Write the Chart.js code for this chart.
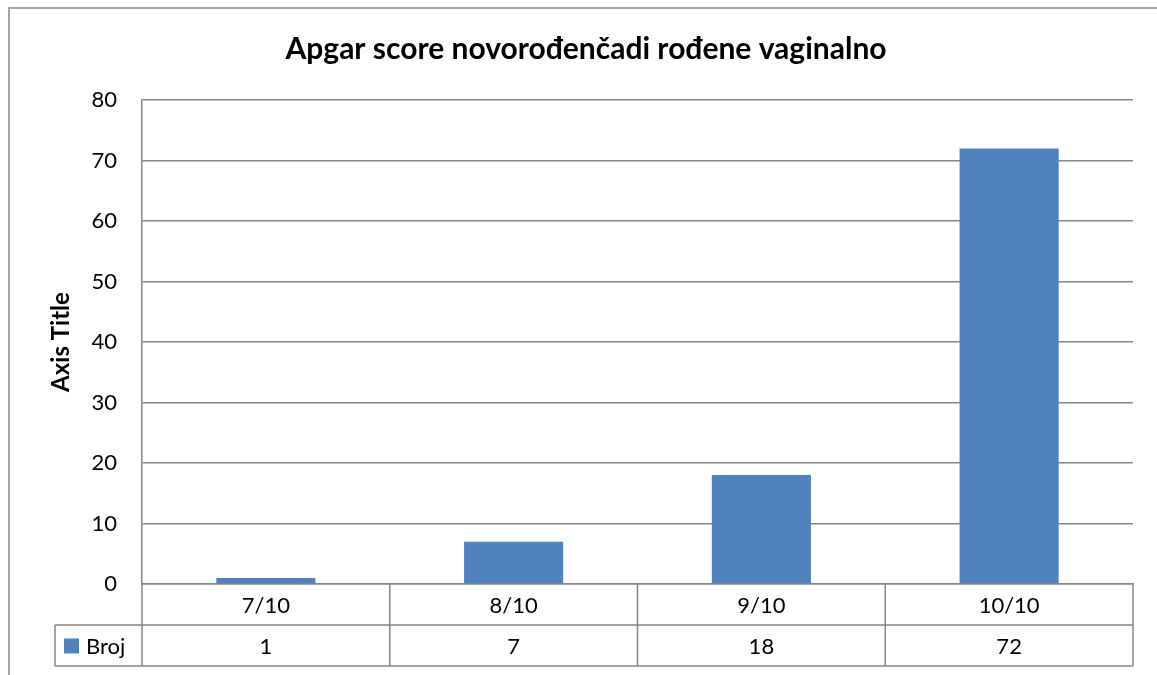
<!DOCTYPE html>
<html>
<head>
<meta charset="utf-8">
<script src="https://cdn.jsdelivr.net/npm/chart.js@4/dist/chart.umd.min.js"></script>
<style>
  html, body { margin: 0; padding: 0; background: #fff; }
  #wrap { width: 1157px; height: 675px; position: relative; }
</style>
</head>
<body>
<div id="wrap"><canvas id="c" width="1157" height="675"></canvas></div>
<script>
const chartTitle = 'Apgar score novorođenčadi rođene vaginalno';
const yAxisTitle = 'Axis Title';
const categories = ['7/10', '8/10', '9/10', '10/10'];
const seriesName = 'Broj';
const broj = [1, 7, 18, 72];
const yMin = 0, yMax = 80, yStep = 10;

const FONT = 'Lato, "Open Sans", sans-serif';
const GRID = '#868686';
const BAR = '#4F81BD';

const tablePlugin = {
  id: 'dataTable',
  beforeDraw(chart) {
    const ctx = chart.ctx;
    ctx.save();
    ctx.fillStyle = '#fff';
    ctx.fillRect(0, 0, chart.width, chart.height);
    ctx.strokeStyle = GRID;
    ctx.lineWidth = 1.5;
    ctx.strokeRect(9, 8, chart.width + 50, chart.height + 50);
    ctx.restore();
  },
  afterDraw(chart) {
    const ctx = chart.ctx;
    const { left, right, bottom } = chart.chartArea;
    const x = chart.scales.x;
    const rowH = 41;
    const r1 = bottom, r2 = bottom + rowH, r3 = bottom + rowH * 2;
    const legendLeft = 55;
    const n = categories.length;
    const catW = (right - left) / n;
    ctx.save();
    ctx.strokeStyle = GRID;
    ctx.lineWidth = 1.5;
    ctx.beginPath();
    ctx.moveTo(legendLeft, r2); ctx.lineTo(right, r2);
    ctx.moveTo(legendLeft, r3); ctx.lineTo(right, r3);
    ctx.moveTo(legendLeft, r2); ctx.lineTo(legendLeft, r3);
    for (let i = 0; i <= n; i++) {
      const bx = left + i * catW;
      ctx.moveTo(bx, r1); ctx.lineTo(bx, r3);
    }
    ctx.stroke();

    ctx.fillStyle = '#000';
    ctx.font = '22px ' + FONT;
    ctx.textAlign = 'center';
    ctx.textBaseline = 'middle';
    categories.forEach((c, i) => {
      const cx = x.getPixelForValue(i);
      ctx.fillText(c, cx, (r1 + r2) / 2 + 1);
      ctx.fillText(String(broj[i]), cx, (r2 + r3) / 2 + 1);
    });
    // legend key
    ctx.fillStyle = BAR;
    ctx.fillRect(64, (r2 + r3) / 2 - 7, 15, 15);
    ctx.fillStyle = '#000';
    ctx.textAlign = 'left';
    ctx.fillText(seriesName, 86, (r2 + r3) / 2 + 1);
    ctx.restore();
  }
};

new Chart(document.getElementById('c'), {
  type: 'bar',
  data: {
    labels: categories,
    datasets: [{
      label: seriesName,
      data: broj,
      backgroundColor: BAR,
      borderWidth: 0,
      categoryPercentage: 1,
      barPercentage: 0.4
    }]
  },
  options: {
    responsive: false,
    animation: false,
    layout: { padding: { left: 39, right: 24, top: 0, bottom: 91 } },
    plugins: {
      legend: { display: false },
      tooltip: { enabled: false },
      title: {
        display: true,
        text: chartTitle,
        color: '#000',
        font: { family: FONT, size: 30, weight: 'bold' },
        padding: { top: 31, bottom: 33 }
      }
    },
    scales: {
      x: {
        offset: true,
        grid: { display: false, drawTicks: false },
        border: { display: true, color: GRID, width: 1.5 },
        ticks: { display: false },
        afterFit(s) { s.height = 0; }
      },
      y: {
        min: yMin, max: yMax,
        ticks: { stepSize: yStep, color: '#000', font: { family: FONT, size: 22 }, padding: 25 },
        grid: { color: GRID, lineWidth: 1.5, drawTicks: false },
        border: { display: true, color: GRID, width: 1.5 },
        title: {
          display: true,
          text: yAxisTitle,
          color: '#000',
          font: { family: FONT, size: 24, weight: 'bold' },
          padding: { top: 8, bottom: 0 }
        },
        afterFit(s) { s.width = 103; }
      }
    }
  },
  plugins: [tablePlugin]
});
</script>
</body>
</html>
